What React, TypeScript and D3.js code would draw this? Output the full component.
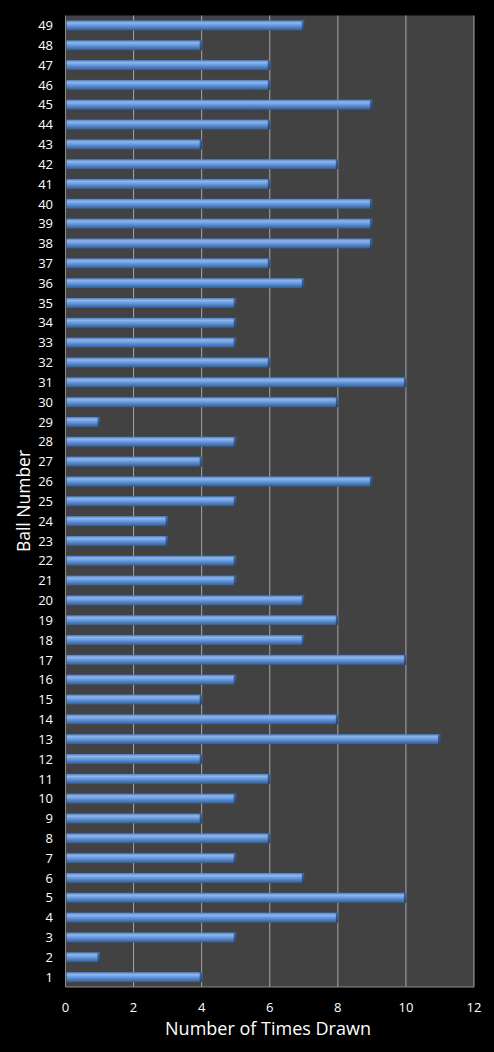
import React from "react";
import * as d3 from "d3";

const balls: number[] = Array.from({ length: 49 }, (_, i) => i + 1);
const timesDrawn: number[] = [
  4, 1, 5, 8, 10, 7, 5, 6, 4, 5,
  6, 4, 11, 8, 4, 5, 10, 7, 8, 7,
  5, 5, 3, 3, 5, 9, 4, 5, 1, 8,
  10, 6, 5, 5, 5, 7, 6, 9, 9, 9,
  6, 8, 4, 6, 9, 6, 6, 4, 7,
];
const xTicks: number[] = [0, 2, 4, 6, 8, 10, 12];

const W = 494;
const H = 1052;
const left = 65.5;
const right = 474;
const top = 15.5;
const bottom = 987;

export default function App() {
  const x = d3.scaleLinear().domain([0, 12]).range([left, right]);
  const y = d3
    .scaleBand<number>()
    .domain(balls.slice().reverse())
    .range([top, bottom])
    .paddingInner(0.5)
    .paddingOuter(0.25);
  const bh = y.bandwidth();
  const font = "'Open Sans', 'DejaVu Sans', sans-serif";
  return (
    <div style={{ position: "absolute", left: 0, top: 0 }}>
      <svg width={W} height={H} style={{ display: "block", background: "#000" }}>
        <defs>
          <linearGradient id="barg" x1="0" y1="0" x2="0" y2="1">
            <stop offset="0%" stopColor="#4f7fc0" />
            <stop offset="25%" stopColor="#8fb6ea" />
            <stop offset="55%" stopColor="#6193d8" />
            <stop offset="100%" stopColor="#2f5d99" />
          </linearGradient>
          <linearGradient id="capg" x1="0" y1="0" x2="0" y2="1">
            <stop offset="0%" stopColor="#3e6aa8" />
            <stop offset="100%" stopColor="#23467a" />
          </linearGradient>
        </defs>
        <rect x={0} y={0} width={W} height={H} fill="#000" />
        <rect x={left} y={top} width={right - left} height={bottom - top} fill="#424242" />
        {xTicks.slice(1).map((t) => (
          <line key={t} x1={x(t)} x2={x(t)} y1={top} y2={bottom} stroke="#a6a6a6" strokeWidth={1} />
        ))}
        <line x1={left} x2={left} y1={top} y2={bottom} stroke="#8c8c8c" strokeWidth={1} />
        <line x1={left} x2={right} y1={bottom} y2={bottom} stroke="#8c8c8c" strokeWidth={1} />
        {balls.map((b, i) => {
          const v = timesDrawn[i];
          const y0 = y(b)!;
          const x1 = x(v);
          return (
            <g key={b}>
              <rect x={left + 1} y={y0} width={x1 - left - 1} height={bh} fill="url(#barg)" />
              <rect x={x1 - 2} y={y0} width={2.5} height={bh} fill="url(#capg)" />
            </g>
          );
        })}
        {balls.map((b) => (
          <text
            key={b}
            x={53}
            y={y(b)! + bh / 2}
            dy="0.36em"
            textAnchor="end"
            fill="#fff"
            fontSize={13}
            fontFamily={font}
          >
            {b}
          </text>
        ))}
        {xTicks.map((t) => (
          <text
            key={t}
            x={x(t)}
            y={1012}
            textAnchor="middle"
            fill="#fff"
            fontSize={13}
            fontFamily={font}
          >
            {t}
          </text>
        ))}
        <text x={268} y={1035} textAnchor="middle" fill="#fff" fontSize={18} fontFamily={font}>
          Number of Times Drawn
        </text>
        <text
          transform={`translate(30, 501) rotate(-90)`}
          textAnchor="middle"
          fill="#fff"
          fontSize={17.5}
          fontFamily={font}
        >
          Ball Number
        </text>
      </svg>
    </div>
  );
}
